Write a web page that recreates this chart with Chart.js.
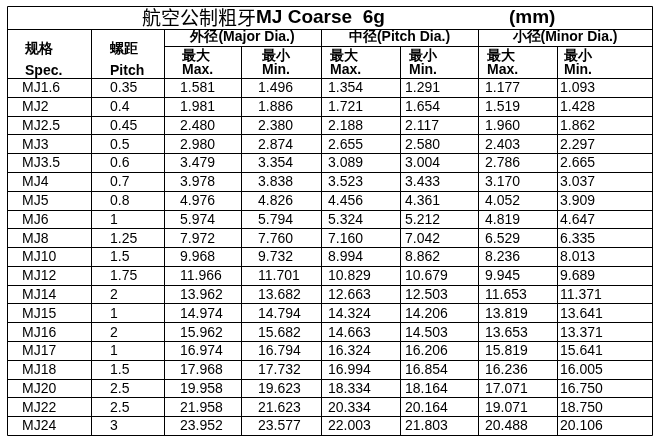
<!DOCTYPE html>
<html><head><meta charset="utf-8">
<script src="https://cdn.jsdelivr.net/npm/chart.js@4"></script>
<style>html,body{margin:0;padding:0;background:#fff}#w{width:662px;height:442px}</style>
</head><body><div id="w"><canvas id="c"></canvas></div>
<script>
const specs=["MJ1.6","MJ2","MJ2.5","MJ3","MJ3.5","MJ4","MJ5","MJ6","MJ8","MJ10","MJ12","MJ14","MJ15","MJ16","MJ17","MJ18","MJ20","MJ22","MJ24"];
const pitch=["0.35","0.4","0.45","0.5","0.6","0.7","0.8","1","1.25","1.5","1.75","2","1","2","1","1.5","2.5","2.5","3"];
const majorMax=["1.581","1.981","2.480","2.980","3.479","3.978","4.976","5.974","7.972","9.968","11.966","13.962","14.974","15.962","16.974","17.968","19.958","21.958","23.952"];
const majorMin=["1.496","1.886","2.380","2.874","3.354","3.838","4.826","5.794","7.760","9.732","11.701","13.682","14.794","15.682","16.794","17.732","19.623","21.623","23.577"];
const pitchMax=["1.354","1.721","2.188","2.655","3.089","3.523","4.456","5.324","7.160","8.994","10.829","12.663","14.324","14.663","16.324","16.994","18.334","20.334","22.003"];
const pitchMin=["1.291","1.654","2.117","2.580","3.004","3.433","4.361","5.212","7.042","8.862","10.679","12.503","14.206","14.503","16.206","16.854","18.164","20.164","21.803"];
const minorMax=["1.177","1.519","1.960","2.403","2.786","3.170","4.052","4.819","6.529","8.236","9.945","11.653","13.819","13.653","15.819","16.236","17.071","19.071","20.488"];
const minorMin=["1.093","1.428","1.862","2.297","2.665","3.037","3.909","4.647","6.335","8.013","9.689","11.371","13.641","13.371","15.641","16.005","16.750","18.750","20.106"];
const titleCjk="航空公制粗牙";
const titleLat="MJ Coarse  6g";
const unit="(mm)";
const groupLabels=["外径(Major Dia.)","中径(Pitch Dia.)","小径(Minor Dia.)"];

const colEdges=[7,91,164,241,321,400,478,557,652];
const textX=[22,110,180,258,328,405,485,560];
const tTop=6,titleB=29,subB=46,headB=78,tBottom=435;
const cols=[specs,pitch,majorMax,majorMin,pitchMax,pitchMin,minorMax,minorMin];

const tablePlugin={id:'table',afterDraw(ch){
  const c=ch.ctx,X=v=>ch.scales.x.getPixelForValue(v),Y=v=>ch.scales.y.getPixelForValue(v);
  const n=specs.length,rh=(tBottom-headB)/n;
  c.save();c.strokeStyle='#000';c.lineWidth=1;c.fillStyle='#000';
  const line=(x1,y1,x2,y2)=>{c.beginPath();c.moveTo(Math.round(X(x1))+.5,Math.round(Y(y1))+.5);c.lineTo(Math.round(X(x2))+.5,Math.round(Y(y2))+.5);c.stroke();};
  line(colEdges[0],tTop,colEdges[8],tTop);
  line(colEdges[0],titleB,colEdges[8],titleB);
  line(colEdges[2],subB,colEdges[8],subB);
  for(let i=0;i<=n;i++){const y=headB+i*rh;line(colEdges[0],y,colEdges[8],y);}
  line(colEdges[0],tTop,colEdges[0],tBottom);line(colEdges[8],tTop,colEdges[8],tBottom);
  for(let k=1;k<8;k++){const y0=(k===3||k===5||k===7)?subB:titleB;line(colEdges[k],y0,colEdges[k],tBottom);}
  c.textBaseline='middle';c.textAlign='left';
  c.font='19px "Noto Sans CJK SC"';const w1=c.measureText(titleCjk).width;
  const tx=X(142);c.fillText(titleCjk,tx,Y(18));
  c.font='bold 19px "Liberation Sans"';c.fillText(titleLat,tx+w1,Y(18));
  c.fillText(unit,X(509),Y(18));
  c.font='bold 14px "Liberation Sans"';c.textAlign='center';
  groupLabels.forEach((g,i)=>c.fillText(g,X((colEdges[2+2*i]+colEdges[4+2*i])/2),Y(37.5)));
  c.textAlign='left';
  c.fillText("规格",X(25),Y(49));c.fillText("Spec.",X(25),Y(71));
  c.fillText("螺距",X(110),Y(49));c.fillText("Pitch",X(110),Y(71));
  for(let k=2;k<8;k++){const x=textX[k]+(k%2?4:2);c.fillText("最"+(k%2?"小":"大"),X(x),Y(56));c.fillText(k%2?"Min.":"Max.",X(x),Y(70));}
  c.font='14px "Liberation Sans"';
  cols.forEach((arr,k)=>arr.forEach((v,i)=>c.fillText(v,X(textX[k]),Y(headB+i*rh+rh/2+1))));
  c.restore();
}};
new Chart(document.getElementById('c'),{type:'scatter',
 data:{datasets:[{data:specs.map((s,i)=>({x:textX[0],y:headB+i*(tBottom-headB)/specs.length})),pointRadius:0}]},
 options:{responsive:true,maintainAspectRatio:false,animation:false,layout:{padding:0},
  plugins:{legend:{display:false},tooltip:{enabled:false}},
  scales:{x:{type:'linear',min:0,max:662,display:false},y:{type:'linear',min:0,max:442,reverse:true,display:false}}},
 plugins:[tablePlugin]});
</script></body></html>
